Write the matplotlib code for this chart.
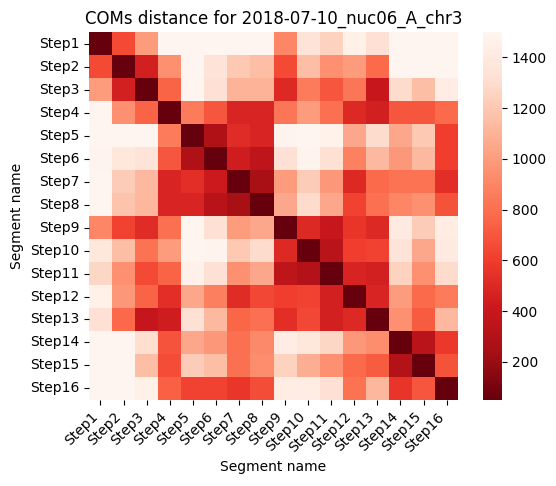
import matplotlib
matplotlib.use("Agg")
import matplotlib.pyplot as plt
import numpy as np
import seaborn as sns

segments = [f"Step{i}" for i in range(1, 17)]

# distance matrix (rows/cols = Step1..Step16)
distances = np.array([
    [50, 650, 1000, 1500, 1500, 1500, 1500, 1500, 900, 1350, 1250, 1450, 1330, 1500, 1500, 1500],
    [650, 50, 450, 950, 1500, 1350, 1200, 1150, 650, 1150, 950, 1000, 780, 1500, 1500, 1500],
    [1000, 450, 50, 750, 1500, 1330, 1100, 1100, 500, 850, 700, 830, 400, 1300, 1150, 1430],
    [1500, 950, 750, 50, 850, 700, 480, 480, 830, 1000, 800, 500, 450, 700, 700, 780],
    [1500, 1500, 1500, 850, 50, 280, 520, 480, 1480, 1500, 1470, 1050, 1300, 1050, 1200, 600],
    [1480, 1370, 1350, 700, 280, 50, 430, 350, 1330, 1480, 1320, 880, 1130, 980, 1130, 600],
    [1500, 1220, 1130, 480, 530, 420, 50, 250, 1000, 1220, 980, 500, 780, 820, 820, 530],
    [1500, 1180, 1120, 480, 480, 320, 250, 50, 1050, 1300, 1050, 620, 800, 900, 950, 680],
    [900, 620, 520, 800, 1500, 1330, 1000, 1050, 50, 500, 400, 560, 500, 1400, 1220, 1420],
    [1370, 1150, 820, 1000, 1500, 1480, 1200, 1300, 500, 50, 330, 600, 620, 1350, 1050, 1400],
    [1270, 950, 650, 750, 1460, 1330, 950, 1050, 350, 300, 50, 470, 450, 1250, 950, 1300],
    [1450, 980, 750, 530, 1050, 870, 520, 640, 600, 620, 450, 50, 480, 1000, 780, 850],
    [1330, 770, 380, 430, 1330, 1130, 760, 800, 530, 640, 450, 500, 50, 950, 720, 1130],
    [1500, 1500, 1310, 690, 1050, 980, 800, 920, 1430, 1370, 1270, 980, 930, 50, 330, 580],
    [1500, 1500, 1150, 660, 1220, 1150, 800, 930, 1250, 1080, 950, 780, 720, 300, 50, 680],
    [1500, 1500, 1450, 740, 620, 620, 570, 660, 1420, 1420, 1330, 820, 1120, 560, 700, 50],
])

fig = plt.figure(figsize=(5.56, 4.86), dpi=100)
ax = fig.add_axes([0.160, 0.177, 0.664, 0.757])
cax = fig.add_axes([0.869, 0.177, 0.034, 0.757])
sns.heatmap(distances, cmap="Reds_r", vmin=50, vmax=1500,
            xticklabels=segments, yticklabels=segments, ax=ax, cbar_ax=cax)
ax.set_title("COMs distance for 2018-07-10_nuc06_A_chr3")
ax.set_xlabel("Segment name")
ax.set_ylabel("Segment name")
plt.setp(ax.get_xticklabels(), rotation=45, ha="right")
plt.setp(ax.get_yticklabels(), rotation=0)
plt.savefig("out.png", dpi=100)
